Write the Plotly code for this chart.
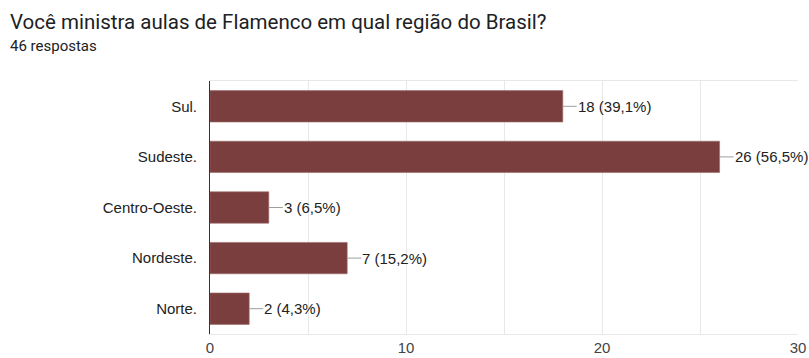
import plotly.graph_objects as go

# Survey answers: region where flamenco classes are taught
regions = ["Sul.", "Sudeste.", "Centro-Oeste.", "Nordeste.", "Norte."]
counts = [18, 26, 3, 7, 2]
percents = ["39,1%", "56,5%", "6,5%", "15,2%", "4,3%"]
tick_vals = [0, 10, 20, 30]
total_answers = 46
question = "Você ministra aulas de Flamenco em qual região do Brasil?"

bar_color = "#7b3e3e"
label_font = dict(family="Liberation Sans, Arial, sans-serif", size=15, color="#222222")

fig = go.Figure(
    go.Bar(
        x=counts,
        y=regions,
        orientation="h",
        marker=dict(color=bar_color, line=dict(color="#9c6a6a", width=0.6)),
        width=0.62,
        hoverinfo="skip",
    )
)

# leader line + value label for each bar
for reg, val, pct in zip(regions, counts, percents):
    fig.add_shape(
        type="line",
        xref="x", yref="y",
        xsizemode="pixel", xanchor=val,
        x0=0, x1=14, y0=reg, y1=reg,
        line=dict(color="#9e9e9e", width=1),
        layer="above",
    )
    fig.add_annotation(
        x=val, y=reg, xref="x", yref="y",
        text=f"{val} ({pct})",
        showarrow=False,
        xanchor="left", yanchor="middle",
        xshift=13,
        font=label_font,
    )

# question title and response count above the plot
fig.add_annotation(
    text=question,
    xref="paper", yref="paper", x=0, y=1,
    xshift=-202, yshift=59,
    xanchor="left", yanchor="middle",
    showarrow=False,
    font=dict(family="Roboto, sans-serif", size=20.5, color="#202124"),
)
fig.add_annotation(
    text=f"{total_answers} respostas",
    xref="paper", yref="paper", x=0, y=1,
    xshift=-202, yshift=35,
    xanchor="left", yanchor="middle",
    showarrow=False,
    font=dict(family="Roboto, sans-serif", size=15, color="#202124"),
)

fig.update_layout(
    width=809,
    height=358,
    margin=dict(l=210, r=11, t=81, b=24),
    paper_bgcolor="white",
    plot_bgcolor="white",
    showlegend=False,
    bargap=0.38,
    xaxis=dict(
        range=[0, 30],
        tickvals=tick_vals,
        ticktext=[str(v) for v in tick_vals],
        tickfont=dict(family="Liberation Sans, Arial, sans-serif", size=15, color="#444444"),
        showgrid=True,
        gridcolor="#e8e8e8",
        gridwidth=1,
        minor=dict(dtick=5, tick0=0, showgrid=True, gridcolor="#e8e8e8", gridwidth=1),
        zeroline=False,
        showline=True,
        linecolor="#e8e8e8",
        mirror=True,
        ticks="",
        automargin=False,
        fixedrange=True,
    ),
    yaxis=dict(
        categoryorder="array",
        categoryarray=regions[::-1],
        tickfont=label_font,
        showline=True,
        linecolor="#333333",
        linewidth=1,
        showgrid=False,
        ticks="outside",
        ticklen=9,
        tickcolor="rgba(0,0,0,0)",
        automargin=False,
        fixedrange=True,
    ),
)

fig.write_html("out.html")
